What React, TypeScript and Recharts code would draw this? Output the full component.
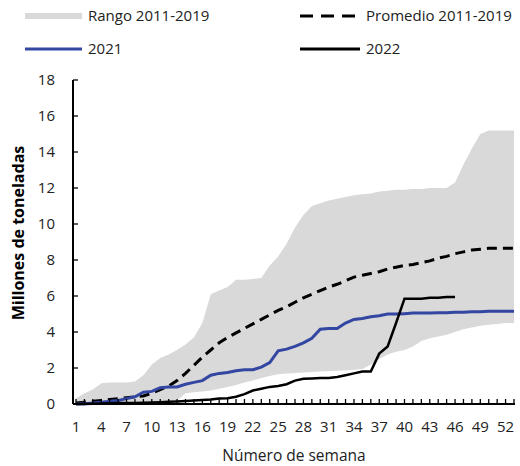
import React from 'react';
import { ComposedChart, Area, Line, XAxis, YAxis } from 'recharts';

// weeks 1..53
const weeks = Array.from({ length: 53 }, (_, i) => i + 1);

const rangeLow = [
  0.05, 0.05, 0.05, 0.05, 0.05, 0.05, 0.05, 0.08, 0.1, 0.1,
  0.12, 0.15, 0.2, 0.6, 0.65, 0.7, 0.75, 0.85, 0.95, 1.05,
  1.2, 1.3, 1.45, 1.55, 1.65, 1.7, 1.72, 1.75, 1.78, 1.8,
  1.82, 1.85, 1.88, 1.9, 1.95, 2.2, 2.5, 2.75, 2.9, 3.0,
  3.2, 3.5, 3.65, 3.75, 3.85, 4.0, 4.15, 4.25, 4.35, 4.4,
  4.45, 4.5, 4.5,
];

const rangeHigh = [
  0.3, 0.6, 0.8, 1.15, 1.2, 1.2, 1.2, 1.25, 1.6, 2.2,
  2.55, 2.75, 3.0, 3.3, 3.7, 4.5, 6.1, 6.3, 6.5, 6.9,
  6.9, 6.95, 7.0, 7.7, 8.2, 8.9, 9.8, 10.5, 11.0, 11.15,
  11.3, 11.4, 11.5, 11.6, 11.65, 11.7, 11.8, 11.85, 11.9, 11.9,
  11.95, 11.95, 12.0, 12.0, 12.0, 12.3, 13.3, 14.2, 15.0, 15.2,
  15.2, 15.2, 15.2,
];

const promedio = [
  0.05, 0.1, 0.15, 0.2, 0.25, 0.3, 0.35, 0.4, 0.45, 0.6,
  0.8, 1.0, 1.3, 1.7, 2.15, 2.6, 3.0, 3.4, 3.7, 3.95,
  4.2, 4.45, 4.7, 4.95, 5.2, 5.4, 5.65, 5.9, 6.1, 6.3,
  6.5, 6.65, 6.85, 7.05, 7.15, 7.25, 7.35, 7.5, 7.6, 7.7,
  7.75, 7.85, 7.95, 8.1, 8.2, 8.35, 8.45, 8.55, 8.6, 8.65,
  8.65, 8.65, 8.65,
];

const y2021 = [
  0.0, 0.02, 0.05, 0.1, 0.15, 0.2, 0.3, 0.4, 0.65, 0.7,
  0.9, 0.95, 0.95, 1.1, 1.2, 1.3, 1.6, 1.7, 1.75, 1.85,
  1.9, 1.9, 2.05, 2.3, 2.95, 3.05, 3.2, 3.4, 3.65, 4.15,
  4.2, 4.2, 4.5, 4.7, 4.75, 4.85, 4.9, 5.0, 5.0, 5.02,
  5.05, 5.05, 5.05, 5.07, 5.07, 5.1, 5.1, 5.12, 5.12, 5.15,
  5.15, 5.15, 5.15,
];

const y2022 = [
  0.0, 0.0, 0.02, 0.03, 0.04, 0.05, 0.05, 0.06, 0.07, 0.08,
  0.1, 0.12, 0.14, 0.17, 0.2, 0.22, 0.25, 0.3, 0.32, 0.4,
  0.55, 0.75, 0.85, 0.95, 1.0, 1.1, 1.3, 1.4, 1.42, 1.45,
  1.45, 1.5, 1.6, 1.7, 1.8, 1.8, 2.8, 3.2, 4.5, 5.85,
  5.85, 5.85, 5.9, 5.9, 5.95, 5.95,
];

const yTicks = [0, 2, 4, 6, 8, 10, 12, 14, 16, 18];

const data = weeks.map((w, i) => ({
  week: w,
  rango: [rangeLow[i], rangeHigh[i]],
  promedio: promedio[i],
  y2021: y2021[i],
  y2022: i < y2022.length ? y2022[i] : null,
}));

const FONT = "'Open Sans', sans-serif";
const BLUE = '#3346a1';
const GREY = '#d9d9d9';

const WeekTick = (props: any) => {
  const { x, y, payload } = props;
  if ((payload.value - 1) % 3 !== 0) return <g />;
  return (
    <text x={x} y={y + 28} textAnchor="middle" fontFamily={FONT} fontSize={15} fill="#222">
      {payload.value}
    </text>
  );
};

// legend + y axis title drawn on top of the chart
function Overlay() {
  const txt = { fontFamily: FONT, fontSize: 15, fill: '#222' };
  return (
    <svg width={520} height={466} style={{ position: 'absolute', left: 0, top: 0, pointerEvents: 'none' }}>
      <rect x={25} y={13} width={57} height={6} fill={GREY} />
      <text x={88} y={21} {...txt}>Rango 2011-2019</text>
      <line x1={300} x2={362} y1={16} y2={16} stroke="#000" strokeWidth={3} strokeDasharray="13 8" />
      <text x={366} y={21} {...txt}>Promedio 2011-2019</text>
      <line x1={25} x2={82} y1={49} y2={49} stroke={BLUE} strokeWidth={3} />
      <text x={88} y={54} {...txt}>2021</text>
      <line x1={300} x2={360} y1={49} y2={49} stroke="#000" strokeWidth={3} />
      <text x={366} y={54} {...txt}>2022</text>
      <text
        x={24}
        y={233}
        transform="rotate(-90, 24, 233)"
        textAnchor="middle"
        fontFamily={FONT}
        fontSize={16}
        fontWeight={700}
        fill="#000"
      >
        Millones de toneladas
      </text>
    </svg>
  );
}

export default function App() {
  return (
    <div style={{ position: 'absolute', left: 0, top: 0, width: 520, height: 466, background: '#fff' }}>
      <ComposedChart width={520} height={466} data={data} margin={{ top: 80, right: 5, left: 0, bottom: 0 }}>
        <XAxis
          dataKey="week"
          scale="point"
          padding={{ left: 3, right: 1 }}
          interval={0}
          height={62}
          axisLine={{ stroke: '#000', strokeWidth: 2 }}
          tickLine={{ stroke: '#000', strokeWidth: 1.3 }}
          tickSize={-5}
          tickMargin={5}
          tick={<WeekTick />}
          label={{ value: 'Número de semana', position: 'insideBottom', offset: 5, fontFamily: FONT, fontSize: 15.5, fill: '#222' }}
        />
        <YAxis
          domain={[0, 18]}
          ticks={yTicks}
          width={73}
          interval={0}
          axisLine={{ stroke: '#000', strokeWidth: 2 }}
          tickLine={{ stroke: '#000', strokeWidth: 1.3 }}
          tickSize={-5}
          tickMargin={23}
          tick={{ fontFamily: FONT, fontSize: 15, fill: '#222' }}
        />
        <Area dataKey="rango" stroke="none" fill={GREY} fillOpacity={1} isAnimationActive={false} />
        <Line dataKey="promedio" stroke="#000" strokeWidth={3} strokeDasharray="10 6" dot={false} isAnimationActive={false} />
        <Line dataKey="y2021" stroke={BLUE} strokeWidth={3} dot={false} isAnimationActive={false} />
        <Line dataKey="y2022" stroke="#000" strokeWidth={2.5} dot={false} isAnimationActive={false} />
      </ComposedChart>
      <Overlay />
    </div>
  );
}
